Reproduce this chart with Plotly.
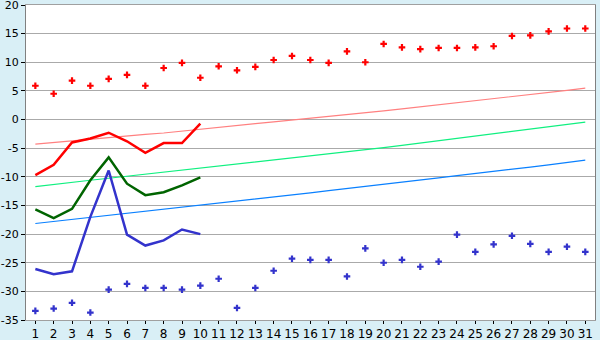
import plotly.graph_objects as go

days = list(range(1, 32))
day_labels = [str(d) for d in days]

# record highs (red crosses)
record_high = [5.9, 4.5, 6.8, 5.9, 7.1, 7.8, 5.9, 9.0, 9.9, 7.3,
               9.3, 8.6, 9.2, 10.4, 11.1, 10.4, 9.9, 11.9, 10.0, 13.2,
               12.6, 12.3, 12.5, 12.5, 12.6, 12.8, 14.6, 14.7, 15.4, 15.9, 15.9]
# record lows (blue crosses)
record_low = [-33.4, -33.0, -32.0, -33.7, -29.7, -28.7, -29.4, -29.4, -29.7, -29.0,
              -27.8, -32.9, -29.4, -26.4, -24.3, -24.5, -24.5, -27.4, -22.5, -25.0,
              -24.5, -25.7, -24.8, -20.1, -23.1, -21.8, -20.3, -21.7, -23.1, -22.2, -23.1]

# normals
normal_max = [-4.3, -4.0, -3.7, -3.4, -3.1, -2.85, -2.6, -2.35, -2.0, -1.65,
              -1.3, -1.0, -0.7, -0.4, -0.1, 0.2, 0.5, 0.8, 1.15, 1.5,
              1.85, 2.2, 2.55, 2.9, 3.25, 3.6, 3.95, 4.3, 4.7, 5.1, 5.5]
normal_mean = [-11.7, -11.3, -10.95, -10.6, -10.25, -9.9, -9.55, -9.2, -8.85, -8.5,
               -8.15, -7.8, -7.45, -7.1, -6.75, -6.4, -6.0, -5.65, -5.3, -4.9,
               -4.5, -4.1, -3.7, -3.3, -2.95, -2.55, -2.15, -1.75, -1.3, -0.9, -0.45]
normal_min = [-18.15, -17.8, -17.45, -17.1, -16.75, -16.4, -16.05, -15.7, -15.35, -15.0,
              -14.6, -14.25, -13.9, -13.5, -13.15, -12.8, -12.4, -12.05, -11.7, -11.3,
              -10.95, -10.55, -10.2, -9.8, -9.45, -9.05, -8.7, -8.3, -7.9, -7.5, -7.1]

# observed (first 10 days)
obs_days = list(range(1, 11))
obs_max = [-9.7, -7.9, -4.0, -3.3, -2.3, -3.8, -5.8, -4.1, -4.1, -0.7]
obs_mean = [-15.7, -17.2, -15.6, -10.6, -6.6, -11.2, -13.2, -12.7, -11.5, -10.1]
obs_min = [-26.1, -27.0, -26.5, -17.0, -8.9, -20.1, -22.0, -21.1, -19.2, -20.0]

y_ticks = list(range(-35, 21, 5))
y_labels = [str(v) for v in y_ticks]
x_range = [0.49, 31.53]

fig = go.Figure()

fig.add_trace(go.Scatter(x=days, y=normal_max, mode="lines",
                         line=dict(color="#FF8080", width=1.2)))
fig.add_trace(go.Scatter(x=days, y=normal_mean, mode="lines",
                         line=dict(color="#10F080", width=1.2)))
fig.add_trace(go.Scatter(x=days, y=normal_min, mode="lines",
                         line=dict(color="#0A80FF", width=1.2)))

fig.add_trace(go.Scatter(x=obs_days, y=obs_max, mode="lines",
                         line=dict(color="#FF0000", width=2.5)))
fig.add_trace(go.Scatter(x=obs_days, y=obs_mean, mode="lines",
                         line=dict(color="#006400", width=2.5)))
fig.add_trace(go.Scatter(x=obs_days, y=obs_min, mode="lines",
                         line=dict(color="#3333CC", width=2.5)))

fig.add_trace(go.Scatter(x=days, y=record_high, mode="markers",
                         marker=dict(symbol="cross", size=5.5, color="#FF0000",
                                     line=dict(width=0))))
fig.add_trace(go.Scatter(x=days, y=record_low, mode="markers",
                         marker=dict(symbol="cross", size=5.5, color="#3333CC",
                                     line=dict(width=0))))

fig.update_layout(
    width=600, height=340,
    margin=dict(l=26, r=5, t=5, b=20, autoexpand=False),
    paper_bgcolor="#D9EFF6",
    plot_bgcolor="#FFFFFF",
    showlegend=False,
    font=dict(family="DejaVu Sans", size=12, color="#000000"),
    xaxis=dict(
        range=x_range,
        tickmode="array", tickvals=days, ticktext=day_labels,
        showgrid=False, zeroline=False,
        showline=True, linecolor="#A0A0A0", linewidth=1, mirror=True,
        ticks="outside", ticklen=3, tickcolor="#000000",
        automargin=False,
        ticklabeloverflow="allow",
        tickfont=dict(family="DejaVu Sans", size=12),
    ),
    xaxis2=dict(
        range=x_range, overlaying="x", anchor="y", side="bottom",
        tickmode="array", tickvals=days,
        showticklabels=False, showgrid=False, zeroline=False, showline=False,
        ticks="outside", ticklen=6, tickcolor="#000000",
        automargin=False,
    ),
    yaxis=dict(
        range=[-35, 20],
        tickmode="array", tickvals=y_ticks, ticktext=y_labels,
        showgrid=True, gridcolor="#AAAAAA", gridwidth=1,
        zeroline=False,
        showline=True, linecolor="#808080", linewidth=1, mirror=True,
        ticks="outside", ticklen=4, tickcolor="#000000",
        automargin=False,
        ticklabeloverflow="allow",
        tickfont=dict(family="DejaVu Sans", size=11),
    ),
)

fig.write_html("out.html")
